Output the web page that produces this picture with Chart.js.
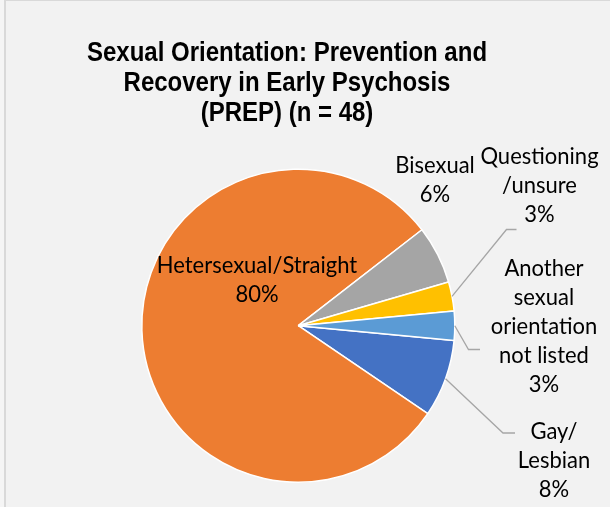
<!DOCTYPE html>
<html>
<head>
<meta charset="utf-8">
<script src="https://cdn.jsdelivr.net/npm/chart.js@4"></script>
<style>
  body { margin: 0; background: #f2f2f2; }
  canvas { display: block; }
</style>
</head>
<body>
<canvas id="myChart" width="610" height="507"></canvas>
<script>
// data
const categories = ['Gay/ Lesbian', 'Hetersexual/Straight', 'Bisexual', 'Questioning /unsure', 'Another sexual orientation not listed'];
const percentages = [8, 80, 6, 3, 3];
const sliceColors = ['#4472C4', '#ED7D31', '#A5A5A5', '#FFC000', '#5B9BD5'];
const titleLines = ['Sexual Orientation: Prevention and', 'Recovery in Early Psychosis', '(PREP) (n = 48)'];

// where the text labels sit (Excel style placement)
const labelLayout = [
    { lines: ['Gay/', 'Lesbian'], x: 554, y: 439, elbow: [503, 433], end: [515, 433] },
    { lines: ['Hetersexual/Straight'], x: 257, y: 272.5 },
    { lines: ['Bisexual'], x: 435, y: 173 },
    { lines: ['Questioning', '/unsure'], x: 539.5, y: 164, elbow: [506.5, 229.5], end: [516.5, 229.5] },
    { lines: ['Another', 'sexual', 'orientation', 'not listed'], x: 544, y: 276, elbow: [468.5, 349.5], end: [480, 349.5] }
];

function drawText(ctx, text, x, y, sy) {
    ctx.save();
    ctx.translate(x, y);
    ctx.scale(1, sy);
    ctx.fillText(text, 0, 0);
    ctx.restore();
}

const backdrop = {
    id: 'backdrop',
    beforeDraw(chart) {
        const ctx = chart.ctx;
        ctx.save();
        ctx.fillStyle = '#f2f2f2';
        ctx.fillRect(0, 0, chart.width, chart.height);
        ctx.fillStyle = '#f5f5f5';
        ctx.fillRect(0, 0, 4, chart.height);
        ctx.fillStyle = '#d9d9d9';
        ctx.fillRect(4, 0, 2, chart.height);
        ctx.fillRect(4, 0, chart.width, 1);
        ctx.restore();
    }
};

const pieLabels = {
    id: 'pieLabels',
    afterDraw(chart) {
        const ctx = chart.ctx;
        ctx.save();
        // title
        ctx.fillStyle = '#000';
        ctx.textAlign = 'center';
        ctx.textBaseline = 'alphabetic';
        ctx.font = 'bold 24px "Liberation Sans", Arial, sans-serif';
        titleLines.forEach((t, i) => drawText(ctx, t, 287, 61 + i * 30, 1.17));

        // leader lines + labels
        const arcs = chart.getDatasetMeta(0).data;
        ctx.font = '22px Lato, "Open Sans", sans-serif';
        labelLayout.forEach((lab, i) => {
            if (lab.elbow) {
                const a = arcs[i];
                const mid = (a.startAngle + a.endAngle) / 2;
                const sx = a.x + Math.cos(mid) * a.outerRadius;
                const sy = a.y + Math.sin(mid) * a.outerRadius;
                ctx.strokeStyle = '#a6a6a6';
                ctx.lineWidth = 1.3;
                ctx.beginPath();
                ctx.moveTo(sx, sy);
                ctx.lineTo(lab.elbow[0], lab.elbow[1]);
                ctx.lineTo(lab.end[0], lab.end[1]);
                ctx.stroke();
            }
            const lines = lab.lines.concat([percentages[i] + '%']);
            lines.forEach((t, j) => drawText(ctx, t, lab.x, lab.y + j * 29, 1.02));
        });
        ctx.restore();
    }
};

const myChart = new Chart(document.getElementById('myChart'), {
    type: 'pie',
    data: {
        labels: categories,
        datasets: [{
            data: percentages,
            backgroundColor: sliceColors,
            borderColor: '#ffffff',
            borderWidth: 1.5,
            radius: 156.5
        }]
    },
    options: {
        responsive: false,
        animation: false,
        rotation: 95.4,
        layout: {
            padding: { left: 141.8, right: 155.2, top: 169.2, bottom: 24.8 }
        },
        plugins: {
            legend: { display: false },
            tooltip: { enabled: false },
            title: { display: false }
        }
    },
    plugins: [backdrop, pieLabels]
});
</script>
</body>
</html>
